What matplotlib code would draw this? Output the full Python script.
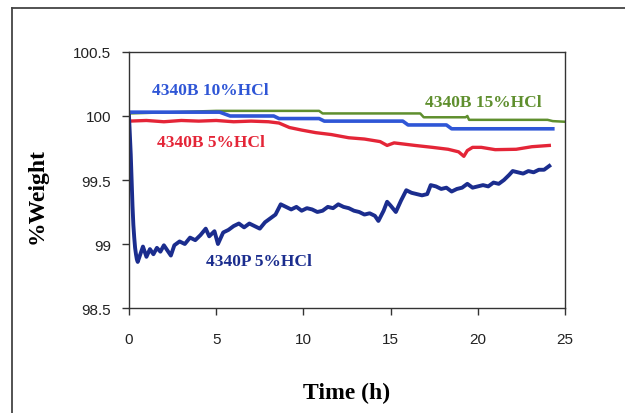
import matplotlib
matplotlib.use("Agg")
import matplotlib.pyplot as plt
from matplotlib.lines import Line2D
from matplotlib.ticker import FuncFormatter

# --- data (time in hours, weight in %) ---
t_b10 = [0, 2, 5.2, 5.8, 8.3, 8.6, 10.9, 11.2, 15.7, 16.0, 18.2, 18.5, 24.3]
w_b10 = [100.03, 100.03, 100.03, 100.0, 100.0, 99.98, 99.98, 99.96, 99.96, 99.93, 99.93, 99.90, 99.90]

t_b15 = [0, 5.0, 10.9, 11.1, 16.7, 16.9, 19.3, 19.4, 19.5, 24.0, 24.3, 25.0]
w_b15 = [100.02, 100.04, 100.04, 100.02, 100.02, 99.99, 99.99, 100.0, 99.97, 99.97, 99.96, 99.955]

t_b5 = [0, 1, 2, 3, 4, 5, 6, 7, 8.0, 8.6, 9.2, 9.9, 10.7, 11.6, 12.6, 13.5, 14.4,
        14.8, 15.2, 16.4, 17.4, 18.3, 18.9, 19.2, 19.4, 19.7, 20.2, 21.0, 22.2, 23.1, 24.1]
w_b5 = [99.96, 99.965, 99.955, 99.965, 99.96, 99.965, 99.955, 99.96, 99.955, 99.945, 99.91,
        99.89, 99.87, 99.855, 99.83, 99.82, 99.80, 99.77, 99.79, 99.77, 99.755, 99.74,
        99.72, 99.685, 99.73, 99.755, 99.755, 99.737, 99.74, 99.76, 99.77]

t_p5 = [0, 0.05, 0.1, 0.15, 0.2, 0.25, 0.3, 0.35, 0.4, 0.45, 0.5, 0.6, 0.8, 1.0, 1.2,
        1.4, 1.6, 1.8, 2.0, 2.2, 2.4, 2.6, 2.9, 3.2, 3.5, 3.8, 4.1, 4.4, 4.6, 4.9,
        5.1, 5.4, 5.7, 6.0, 6.3, 6.6, 6.9, 7.2, 7.5, 7.8, 8.1, 8.4, 8.7, 9.0, 9.3,
        9.6, 9.9, 10.2, 10.5, 10.8, 11.1, 11.4, 11.7, 12.0, 12.3, 12.6, 12.9, 13.2,
        13.5, 13.8, 14.1, 14.3, 14.6, 14.8, 15.0, 15.3, 15.6, 15.9, 16.2, 16.5,
        16.8, 17.1, 17.3, 17.6, 17.9, 18.2, 18.5, 18.8, 19.1, 19.4, 19.7, 20.0,
        20.3, 20.6, 20.9, 21.2, 21.5, 21.8, 22.0, 22.3, 22.6, 22.9, 23.2, 23.5,
        23.8, 24.1]
w_p5 = [100.0, 99.85, 99.7, 99.5, 99.3, 99.15, 99.05, 98.97, 98.92, 98.88, 98.86,
        98.9, 98.98, 98.9, 98.96, 98.92, 98.97, 98.94, 98.99, 98.95, 98.91, 98.99,
        99.02, 99.0, 99.05, 99.03, 99.07, 99.12, 99.06, 99.1, 99.0, 99.09, 99.11,
        99.14, 99.16, 99.13, 99.16, 99.14, 99.12, 99.17, 99.2, 99.23, 99.31, 99.29,
        99.27, 99.29, 99.26, 99.28, 99.27, 99.25, 99.26, 99.29, 99.28, 99.31, 99.29,
        99.28, 99.26, 99.25, 99.23, 99.24, 99.22, 99.18, 99.26, 99.33, 99.3, 99.25,
        99.34, 99.42, 99.4, 99.39, 99.38, 99.39, 99.46, 99.45, 99.43, 99.44, 99.41,
        99.43, 99.44, 99.47, 99.44, 99.45, 99.46, 99.45, 99.48, 99.47, 99.5, 99.54,
        99.57, 99.56, 99.55, 99.57, 99.56, 99.58, 99.58, 99.61]

C_B10 = "#2f56d6"
C_B15 = "#5f8f2e"
C_B5 = "#e42537"
C_P5 = "#1b2d8e"

fig = plt.figure(figsize=(6.25, 4.14), dpi=100)
ax = fig.add_axes([0.2064, 0.2536, 0.6976, 0.6184])

ax.plot(t_b15, w_b15, color=C_B15, lw=1.8)
ax.plot(t_b10, w_b10, color=C_B10, lw=2.6)
ax.plot(t_b5, w_b5, color=C_B5, lw=2.4)
ax.plot(t_p5, w_p5, color=C_P5, lw=2.8)

serif = "Liberation Serif"
ax.text(1.3, 100.2, "4340B 10%HCl", color=C_B10, fontsize=12.5, fontweight="bold",
        family=serif, va="center")
ax.text(17.0, 100.11, "4340B 15%HCl", color=C_B15, fontsize=12.5, fontweight="bold",
        family=serif, va="center")
ax.text(1.6, 99.8, "4340B 5%HCl", color=C_B5, fontsize=12.5, fontweight="bold",
        family=serif, va="center")
ax.text(4.4, 98.87, "4340P 5%HCl", color=C_P5, fontsize=12.5, fontweight="bold",
        family=serif, va="center")

ax.set_xlim(0, 25)
ax.set_ylim(98.5, 100.5)
ax.set_xticks([0, 5, 10, 15, 20, 25])
ax.set_yticks([98.5, 99, 99.5, 100, 100.5])
ax.yaxis.set_major_formatter(FuncFormatter(lambda v, p: f"{v:g}"))
ax.tick_params(direction="out", length=5, width=1, color="#333333",
               labelsize=11, labelcolor="#222222")
ax.tick_params(axis="x", pad=12)
ax.tick_params(axis="y", pad=8)
for lab in ax.get_xticklabels() + ax.get_yticklabels():
    lab.set_family("Liberation Sans")
for sp in ax.spines.values():
    sp.set_color("#333333")
    sp.set_linewidth(1.0)

ax.set_xlabel("Time (h)", family=serif, fontsize=17, fontweight="bold")
ax.xaxis.set_label_coords(0.5, -0.29)
ax.set_ylabel("%Weight", family=serif, fontsize=17, fontweight="bold")
ax.yaxis.set_label_coords(-0.186, 0.44)

# outer frame around the chart
fig.add_artist(Line2D([0.0192, 0.0192], [0.0, 0.978], color="#444444", lw=1.3))
fig.add_artist(Line2D([0.0192, 1.0], [0.978, 0.978], color="#444444", lw=1.3))

fig.savefig("out.png", dpi=100)
